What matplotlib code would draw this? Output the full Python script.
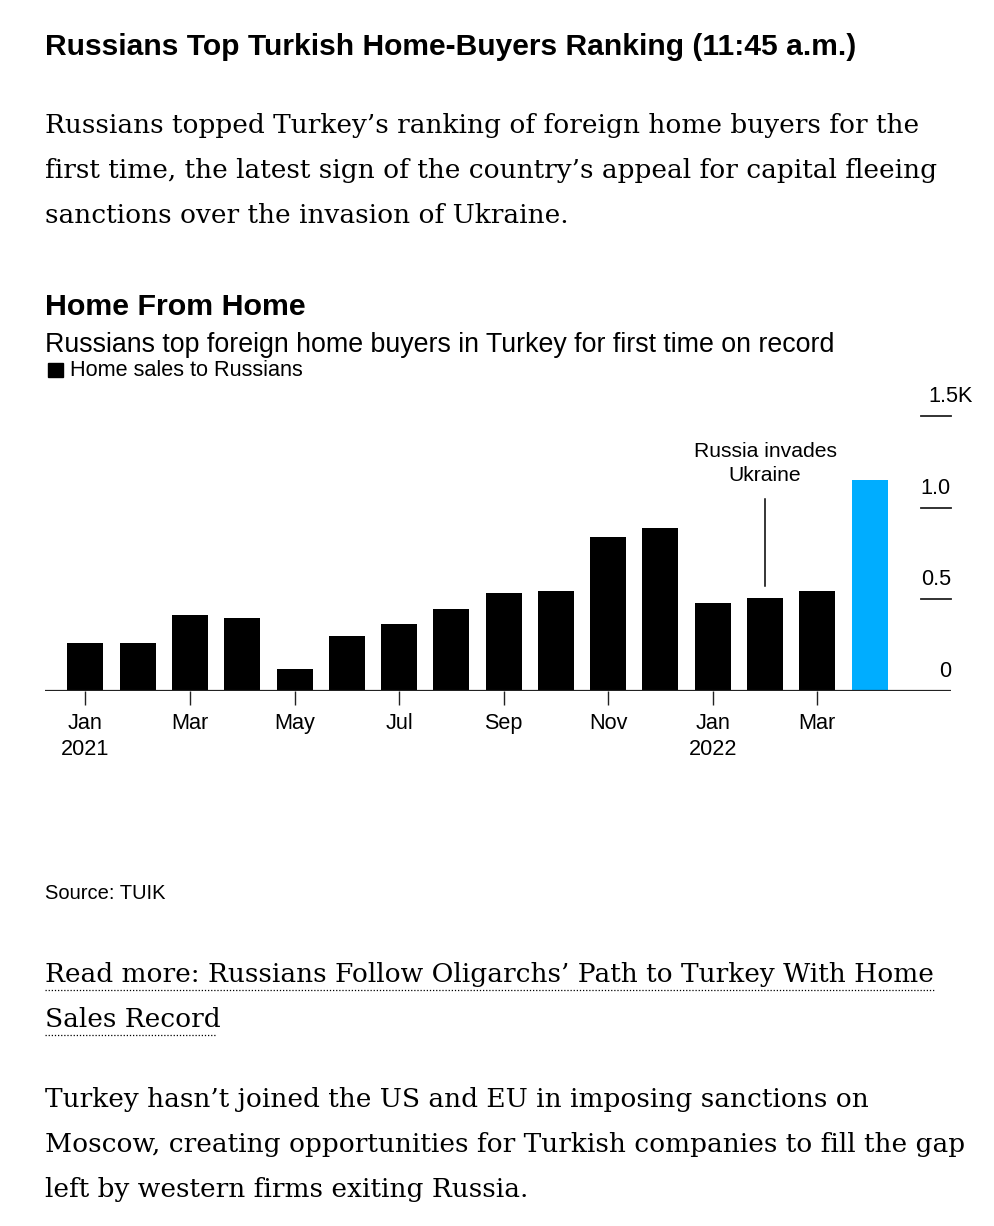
import matplotlib
matplotlib.use("Agg")
import matplotlib.pyplot as plt
from matplotlib.lines import Line2D

# ---- data ----
months = ["Jan", "Feb", "Mar", "Apr", "May", "Jun", "Jul", "Aug", "Sep", "Oct",
          "Nov", "Dec", "Jan", "Feb", "Mar", "Apr"]
years = ["2021", "", "", "", "", "", "", "", "", "", "", "", "2022", "", "", ""]
sales = [257, 257, 411, 395, 117, 297, 362, 444, 535, 542, 837, 886, 477, 504, 542, 1150]
highlight = [False] * 15 + [True]
y_ticks = [0, 500, 1000, 1500]
y_tick_labels = ["0", "0.5", "1.0", "1.5K"]
annot_idx = 13  # Feb 2022

W, H = 995, 1226
fig = plt.figure(figsize=(W / 100, H / 100), dpi=100)
fig.patch.set_facecolor("white")
r = fig.canvas.get_renderer()

SANS = ["Liberation Sans", "DejaVu Sans"]
SERIF = ["DejaVu Serif"]


def fx(x):
    return x / W


def fy(y):
    return 1 - y / H


def width_of(s, size, family, weight="normal"):
    t = fig.text(0, 0, s, fontsize=size, family=family, weight=weight)
    w = t.get_window_extent(renderer=r).width
    t.remove()
    return w


def fit(lines, widths, family, weight="normal"):
    base = 20
    tot = sum(width_of(s, base, family, weight) for s in lines)
    return base * sum(widths) / tot


def put(s, x, y, size, family, weight="normal", ha="left", color="black"):
    fig.text(fx(x), fy(y), s, fontsize=size, family=family, weight=weight,
             ha=ha, va="baseline", color=color)


# ---- headline ----
title = "Russians Top Turkish Home-Buyers Ranking (11:45 a.m.)"
put(title, 45, 55, fit([title], [808], SANS, "bold"), SANS, "bold")

para1 = ["Russians topped Turkey\u2019s ranking of foreign home buyers for the",
         "first time, the latest sign of the country\u2019s appeal for capital fleeing",
         "sanctions over the invasion of Ukraine."]
s1 = fit(para1, [877, 886, 524], SERIF)
for i, ln in enumerate(para1):
    put(ln, 45, 133 + 45 * i, s1, SERIF)

# ---- chart header ----
ct = "Home From Home"
put(ct, 45, 315, fit([ct], [262], SANS, "bold"), SANS, "bold")
sub = "Russians top foreign home buyers in Turkey for first time on record"
put(sub, 45, 352, fit([sub], [787], SANS), SANS)
leg = "Home sales to Russians"
leg_size = fit([leg], [233], SANS)
put(leg, 70, 376, leg_size, SANS)
fig.patches.append(plt.Rectangle((fx(48), fy(377)), fx(15), 14 / H, color="black",
                                 transform=fig.transFigure, figure=fig))

# ---- axes ----
x0_px, x1_px = 45, 951
base_px, top_px = 690.5, 416
c0, step = 85.5, 52.27
ax = fig.add_axes([fx(x0_px), fy(base_px), (x1_px - x0_px) / W, (base_px - top_px) / H])
ax.set_xlim((x0_px - c0) / step, (x1_px - c0) / step)
ax.set_ylim(0, 1500)
for sp in ax.spines.values():
    sp.set_visible(False)
ax.set_facecolor("none")

xs = list(range(len(sales)))
colors = ["#00ADFF" if h else "black" for h in highlight]
ax.bar(xs, sales, width=36 / step, color=colors, zorder=2)

ax.axhline(0, color="#222222", lw=1.6, zorder=3)

tick_pos = xs[::2]
tick_lab = [f"{m}\n{y}" if y else m for m, y in zip(months[::2], years[::2])]
ax.set_xticks(tick_pos)
ax.set_xticklabels(tick_lab, family=SANS, fontsize=leg_size, linespacing=1.3)
ax.tick_params(axis="x", length=10, width=1, color="#222222", pad=6)
ax.set_yticks([])

for v, lab in zip(y_ticks, y_tick_labels):
    if v > 0:
        ax.plot([(921 - x0_px) / (x1_px - x0_px), 1.0], [v, v], color="#222222", lw=1.3,
                transform=ax.get_yaxis_transform(), clip_on=False, zorder=3)
    if lab.endswith("K"):
        ax.annotate(lab, xy=(1.0, v), xycoords=("axes fraction", "data"),
                    xytext=(-23 * 0.72, 10), textcoords="offset points",
                    ha="left", va="baseline", fontsize=leg_size, family=SANS)
    else:
        ax.annotate(lab, xy=(1.0, v), xycoords=("axes fraction", "data"),
                    xytext=(0, 10), textcoords="offset points",
                    ha="right", va="baseline", fontsize=leg_size, family=SANS)

# annotation
ppu = (base_px - top_px) / 1500.0
ax.plot([annot_idx, annot_idx], [(base_px - 499) / ppu, (base_px - 586) / ppu],
        color="black", lw=1.1, clip_on=False)
ann_size = fit(["Russia invades"], [143], SANS)
ax.text(annot_idx, (base_px - 457) / ppu, "Russia invades", ha="center", va="baseline",
        fontsize=ann_size, family=SANS, clip_on=False)
ax.text(annot_idx, (base_px - 481) / ppu, "Ukraine", ha="center", va="baseline",
        fontsize=ann_size, family=SANS, clip_on=False)

# ---- source ----
src = "Source: TUIK"
put(src, 45, 899, fit([src], [120], SANS), SANS)

# ---- read more ----
rm = ["Read more: Russians Follow Oligarchs\u2019 Path to Turkey With Home", "Sales Record"]
s_rm = fit(rm, [890, 171], SERIF)
put(rm[0], 45, 982, s_rm, SERIF)
put(rm[1], 45, 1027, s_rm, SERIF)
for (xa, xb, yy) in [(45, 935, 989.5), (45, 216, 1034.5)]:
    fig.lines.append(Line2D([fx(xa), fx(xb)], [fy(yy), fy(yy)], transform=fig.transFigure,
                            color="black", lw=0.9, linestyle=(0, (1, 1.5)), figure=fig))

para2 = ["Turkey hasn\u2019t joined the US and EU in imposing sanctions on",
         "Moscow, creating opportunities for Turkish companies to fill the gap",
         "left by western firms exiting Russia."]
s2 = fit(para2, [824, 924, 478], SERIF)
for i, ln in enumerate(para2):
    put(ln, 45, 1107 + 45 * i, s2, SERIF)

fig.savefig("out.png", dpi=100, facecolor="white")
